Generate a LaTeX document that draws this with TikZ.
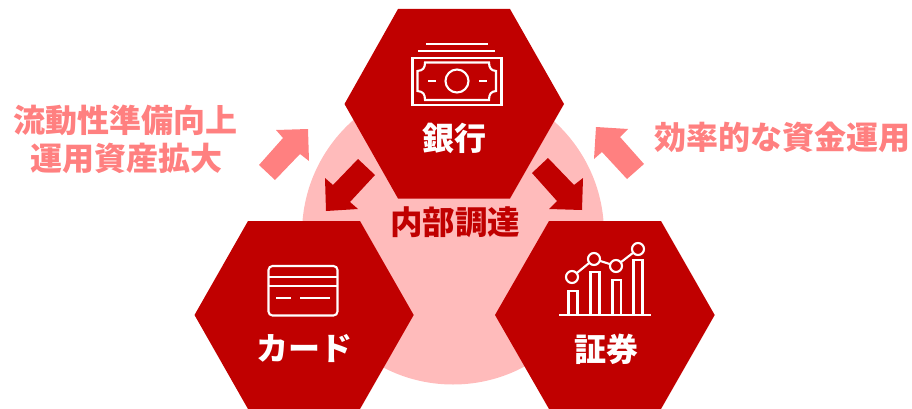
\documentclass[tikz,border=0pt]{standalone}
\usepackage{fontspec}
\setmainfont{Noto Sans CJK JP Black}
\definecolor{deepred}{HTML}{C00000}
\definecolor{softred}{HTML}{FF8080}
\definecolor{palered}{HTML}{FFBBBB}
\tikzset{
  hexa/.style={fill=deepred,draw=none},
  darrow/.style={fill=deepred,draw=none},
  parrow/.style={fill=softred,draw=none},
  icon/.style={draw=white,line width=2.1pt,line cap=butt},
  hexlabel/.style={text=white,font=\fontsize{32}{32}\selectfont,inner sep=0pt},
  sidelabel/.style={text=softred,font=\fontsize{32}{32}\selectfont,inner sep=0pt},
}
\begin{document}
\begin{tikzpicture}[x=1pt,y=-1pt]
\useasboundingbox (0,0) rectangle (912,409);
\fill[palered] (453,233.5) circle (151);
% hexagons
\fill[hexa] (398,9) -- (510,9) -- (564,104) -- (510,198.5) -- (398,198.5) -- (344.5,104) -- cycle;
\fill[hexa] (248,221) -- (360,221) -- (413.7,315) -- (360,409) -- (248,409) -- (194.5,315) -- cycle;
\fill[hexa] (549,221) -- (661,221) -- (714.7,315) -- (661,409) -- (549,409) -- (495,315) -- cycle;
% block arrows
\fill[parrow] (259,165) -- (275,180) -- (300,154) -- (309,161) -- (308,129) -- (276,130) -- (283,138) -- cycle;
\fill[darrow] (358,159) -- (375,175) -- (350,202) -- (358,209) -- (326,211) -- (325,178) -- (333,185) -- cycle;
\fill[darrow] (548,158) -- (532,173) -- (557,201) -- (549,209) -- (582,210) -- (583,178) -- (574,185) -- cycle;
\fill[parrow] (644,164) -- (627,179) -- (602,152) -- (594,159) -- (596,127) -- (628,129) -- (620,137) -- cycle;
% bank icon
\draw[icon] (426,44) -- (488,44);
\draw[icon] (418,51) -- (495,51);
\draw[icon] (412.5,58) rectangle (501.5,105);
\draw[icon] (425,62.5) -- (489,62.5) .. controls (489,68) and (491,70.5) .. (496,71) -- (496,91) .. controls (491,91.5) and (489,94) .. (489,100) -- (425,100) .. controls (425,94) and (423,91.5) .. (417.5,91) -- (417.5,71) .. controls (423,70.5) and (425,68) .. (425,62.5) -- cycle;
\draw[icon] (457,81) circle (11.5);
\draw[icon] (428,81) -- (436,81);
\draw[icon] (479,81) -- (487,81);
% card icon
\draw[icon,rounded corners=4pt] (268.5,266) rectangle (337.5,315.5);
\draw[icon] (268.5,277) -- (337.5,277);
\draw[icon] (268.5,286) -- (337.5,286);
\draw[icon] (276,298) -- (291,298);
\draw[icon] (300,298) -- (330,298);
% chart icon
\draw[icon] (559,315) -- (651,315);
\draw[icon] (568.5,315) -- (568.5,291) -- (577.5,291) -- (577.5,315);
\draw[icon] (590.5,315) -- (590.5,272) -- (599.5,272) -- (599.5,315);
\draw[icon] (612.5,315) -- (612.5,280) -- (621,280) -- (621,315);
\draw[icon] (633.5,315) -- (633.5,260) -- (642.5,260) -- (642.5,315);
\draw[icon] (572,277) -- (594,259) -- (616,266) -- (638,249);
\foreach \p in {(572,277),(594,259),(616,266),(638,249)}{
  \filldraw[icon,fill=deepred] \p circle (6);
}
% labels
\node[hexlabel] (bank) at (454,138) {銀行};
\node[hexlabel] (card) at (304,349) {カード};
\node[hexlabel] (sec) at (606,349) {証券};
\node[inner sep=0pt,text=deepred,font=\fontsize{32.5}{32}\selectfont] (inner) at (455,222) {内部調達};
\node[sidelabel] (l1) at (125.5,120) {流動性準備向上};
\node[sidelabel] (l2) at (126,158) {運用資産拡大};
\node[sidelabel] (r1) at (782,137) {効率的な資金運用};
\end{tikzpicture}
\end{document}
